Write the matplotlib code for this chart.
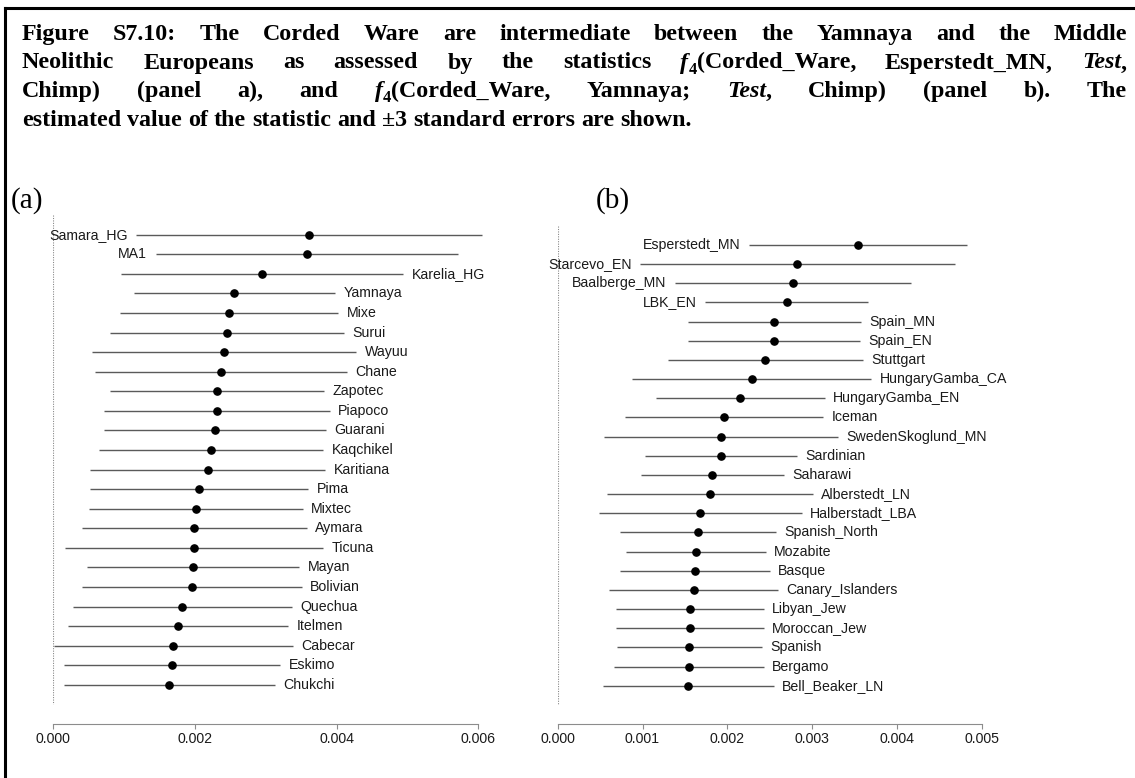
import re
import matplotlib
matplotlib.use("Agg")
import matplotlib.pyplot as plt
from matplotlib.lines import Line2D

W, H = 1135, 778

# ---- panel (a): f4(Corded_Ware, Esperstedt_MN; Test, Chimp)
pops_a = ["Samara_HG", "MA1", "Karelia_HG", "Yamnaya", "Mixe", "Surui", "Wayuu",
          "Chane", "Zapotec", "Piapoco", "Guarani", "Kaqchikel", "Karitiana", "Pima",
          "Mixtec", "Aymara", "Ticuna", "Mayan", "Bolivian", "Quechua", "Itelmen",
          "Cabecar", "Eskimo", "Chukchi"]
est_a = [0.003614, 0.003577, 0.002951, 0.002556, 0.002485, 0.002457, 0.002410,
         0.002368, 0.002311, 0.002311, 0.002278, 0.002226, 0.002179, 0.002057,
         0.002010, 0.001991, 0.001991, 0.001977, 0.001958, 0.001822, 0.001761,
         0.001695, 0.001676, 0.001638]
# three standard errors (half width of each bar)
err_a = [0.002445, 0.002132, 0.001990, 0.001420, 0.001540, 0.001650, 0.001870,
         0.001780, 0.001510, 0.001595, 0.001567, 0.001583, 0.001660, 0.001540,
         0.001513, 0.001586, 0.001822, 0.001496, 0.001551, 0.001546, 0.001557,
         0.001690, 0.001530, 0.001485]
left_a = ["Samara_HG", "MA1"]
ticks_a = [0.000, 0.002, 0.004, 0.006]

# ---- panel (b): f4(Corded_Ware, Yamnaya; Test, Chimp)
pops_b = ["Esperstedt_MN", "Starcevo_EN", "Baalberge_MN", "LBK_EN", "Spain_MN",
          "Spain_EN", "Stuttgart", "HungaryGamba_CA", "HungaryGamba_EN", "Iceman",
          "SwedenSkoglund_MN", "Sardinian", "Saharawi", "Alberstedt_LN",
          "Halberstadt_LBA", "Spanish_North", "Mozabite", "Basque",
          "Canary_Islanders", "Libyan_Jew", "Moroccan_Jew", "Spanish", "Bergamo",
          "Bell_Beaker_LN"]
est_b = [0.003541, 0.002826, 0.002775, 0.002700, 0.002554, 0.002554, 0.002448,
         0.002288, 0.002153, 0.001961, 0.001929, 0.001929, 0.001823, 0.001792,
         0.001682, 0.001651, 0.001627, 0.001619, 0.001604, 0.001560, 0.001560,
         0.001552, 0.001548, 0.001541]
err_b = [0.001283, 0.001857, 0.001396, 0.000959, 0.001022, 0.001012, 0.001150,
         0.001410, 0.000997, 0.001169, 0.001382, 0.000897, 0.000845, 0.001215,
         0.001197, 0.000922, 0.000824, 0.000880, 0.000995, 0.000872, 0.000872,
         0.000855, 0.000882, 0.001006]
left_b = ["Esperstedt_MN", "Starcevo_EN", "Baalberge_MN", "LBK_EN"]
ticks_b = [0.000, 0.001, 0.002, 0.003, 0.004, 0.005]

caption = [
    "Figure S7.10: The Corded Ware are intermediate between the Yamnaya and the Middle",
    "Neolithic Europeans as assessed by the statistics <i>f</i><s>4</s>(Corded_Ware, Esperstedt_MN, <i>Test</i>,",
    "Chimp) (panel a), and <i>f</i><s>4</s>(Corded_Ware, Yamnaya; <i>Test</i>, Chimp) (panel b). The",
    "estimated value of the statistic and \u00b13 standard errors are shown.",
]

SANS = "Liberation Sans"
SERIF = "Liberation Serif"

fig = plt.figure(figsize=(W / 100, H / 100), dpi=100)


def frac(x, y):
    return x / W, 1 - y / H


def panel(box, pops, est, err, left, ticks):
    x0, x1, ytop, yaxis = box
    ax = fig.add_axes([x0 / W, 1 - yaxis / H, (x1 - x0) / W, (yaxis - ytop) / H])
    n = len(pops)
    rows = list(range(n))
    for y, p, e, h in zip(rows, pops, est, err):
        ax.plot([e - h, e + h], [y, y], color="#5a5a5a", lw=1.0, clip_on=False,
                solid_capstyle="butt")
        if p in left:
            ax.annotate(p, (e - h, y), xytext=(-6, 0), textcoords="offset points",
                        ha="right", va="center", fontsize=10.2, family=SANS,
                        color="#1a1a1a", annotation_clip=False)
        else:
            ax.annotate(p, (e + h, y), xytext=(6, 0), textcoords="offset points",
                        ha="left", va="center", fontsize=10.2, family=SANS,
                        color="#1a1a1a", annotation_clip=False)
    ax.plot(est, rows, "o", color="black", ms=5.2, clip_on=False, zorder=3)
    ax.plot([0, 0], [-1, n], color="#888888", lw=0.8, ls=(0, (1, 1.2)))
    ax.set_xlim(ticks[0], ticks[-1])
    ax.set_ylim(n + 1, -1)
    for s in ["top", "left", "right"]:
        ax.spines[s].set_visible(False)
    ax.spines["bottom"].set_color("#8c8c8c")
    ax.spines["bottom"].set_bounds(ticks[0], ticks[-1])
    ax.set_xticks(ticks)
    ax.set_xticklabels([f"{t:.3f}" for t in ticks])
    ax.set_yticks([])
    ax.tick_params(axis="x", direction="out", length=3.5, color="#8c8c8c", pad=2,
                   labelsize=10.2, labelcolor="#1a1a1a")
    for lab in ax.get_xticklabels():
        lab.set_family(SANS)
    ax.patch.set_visible(False)
    return ax


panel((53.3, 478.3, 215.1, 724), pops_a, est_a, err_a, left_a, ticks_a)
panel((557.7, 981.7, 225.8, 724), pops_b, est_b, err_b, left_b, ticks_b)

fig.text(*frac(11, 201), "(a)", family=SERIF, fontsize=21, va="center", ha="left")
fig.text(*frac(596, 201), "(b)", family=SERIF, fontsize=21, va="center", ha="left")

# frame remnants: top and left rules
fig.add_artist(Line2D([5 / W, 1], [1 - 8 / H, 1 - 8 / H], color="black", lw=2.2,
                      transform=fig.transFigure))
fig.add_artist(Line2D([5 / W, 5 / W], [0, 1 - 8 / H], color="black", lw=2.2,
                      transform=fig.transFigure))

# justified caption, word by word
FS = 17.3
renderer = fig.canvas.get_renderer()
left_px, right_px = 22, 1127
baselines = [40, 68.5, 97, 125.5]


def make_word(word):
    parts = []
    for seg in re.split(r"(<i>.*?</i>|<s>.*?</s>)", word):
        if not seg:
            continue
        if seg.startswith("<i>"):
            t = fig.text(0, 0, seg[3:-4], family=SERIF, weight="bold", style="italic",
                         fontsize=FS, va="baseline")
            parts.append((t, 0))
        elif seg.startswith("<s>"):
            t = fig.text(0, 0, seg[3:-4], family=SERIF, weight="bold",
                         fontsize=FS * 0.68, va="baseline")
            parts.append((t, 5))
        else:
            t = fig.text(0, 0, seg, family=SERIF, weight="bold", fontsize=FS,
                         va="baseline")
            parts.append((t, 0))
    widths = [t.get_window_extent(renderer).width for t, _ in parts]
    return parts, widths


for i, (line, base) in enumerate(zip(caption, baselines)):
    words = [make_word(w) for w in line.split(" ")]
    total = sum(sum(ws) for _, ws in words)
    if i < len(caption) - 1:
        gap = (right_px - left_px - total) / (len(words) - 1)
    else:
        gap = 0.25 * FS * 100 / 72
    x = left_px
    for parts, ws in words:
        for (t, dy), w in zip(parts, ws):
            t.set_position(frac(x, base + dy))
            x += w
        x += gap

fig.savefig("out.png", dpi=100)
